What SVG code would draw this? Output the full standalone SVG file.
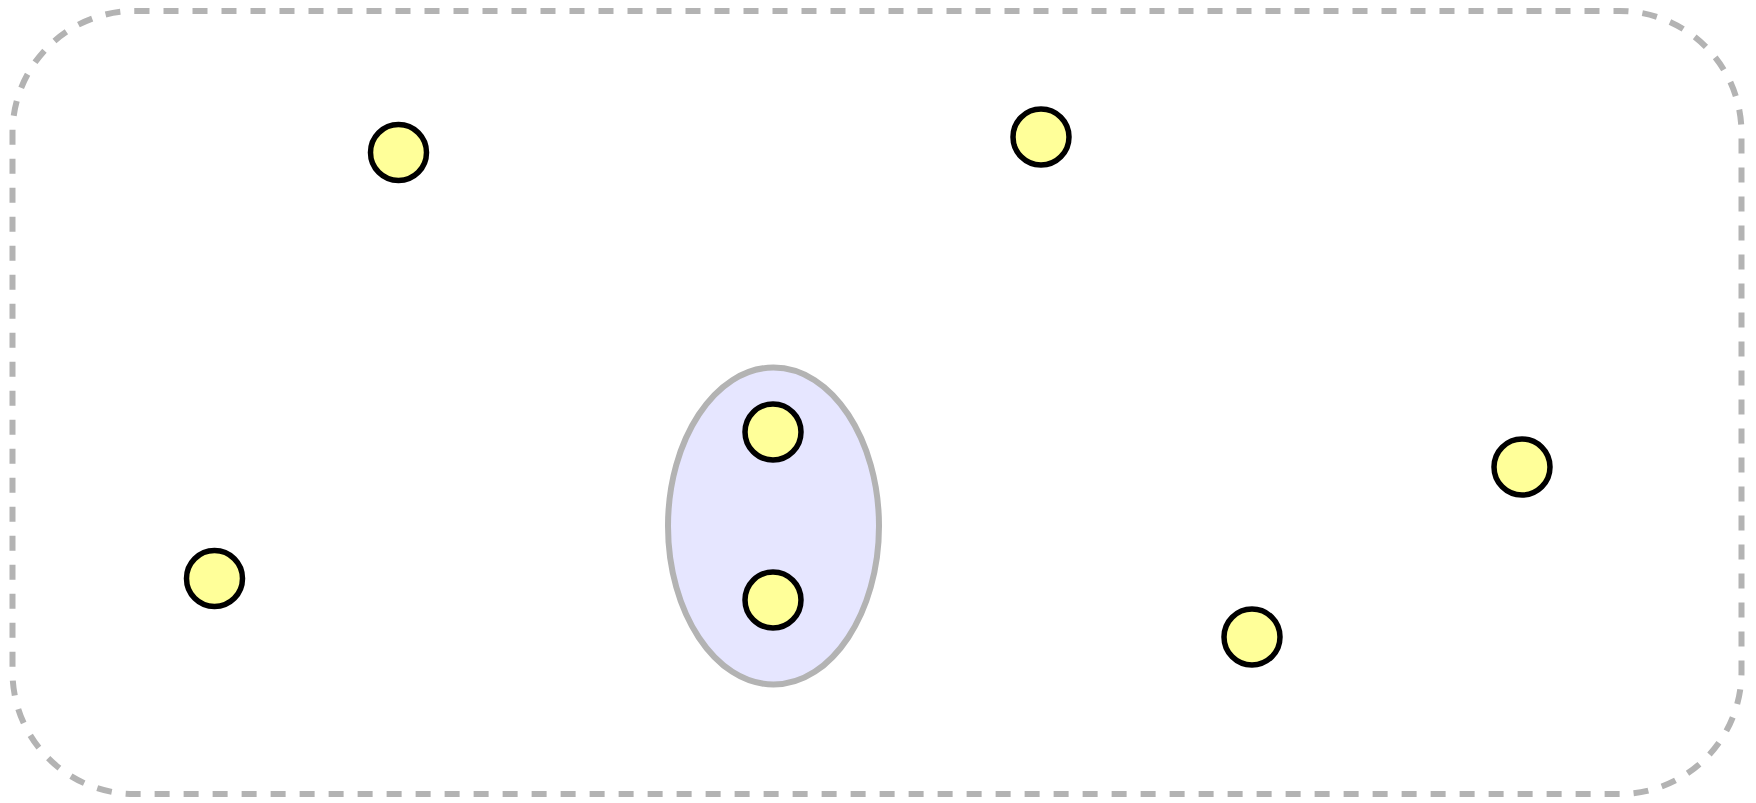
<svg xmlns="http://www.w3.org/2000/svg" width="1756" height="803" viewBox="0 0 1756 803">
<style>
.frame{fill:none;stroke:#b3b3b3;stroke-width:6;stroke-dasharray:15 14}
.cluster{fill:#e6e6ff;stroke:#b3b3b3;stroke-width:6}
.node{fill:#ffff99;stroke:#000000;stroke-width:5.5}
</style>
<rect width="1756" height="803" fill="#ffffff"/>
<rect class="frame" x="12.5" y="11" width="1729" height="783" rx="122" ry="122"/>
<g id="cluster">
<path class="cluster" d="M773.5,367.5 C832,367.5 879,440 879,526 C879,612 832,684.5 773.5,684.5 C715,684.5 668,612 668,526 C668,440 715,367.5 773.5,367.5 Z"/>
</g>
<g id="connectors"></g>
<g id="n1"><circle class="node" cx="398.5" cy="152.5" r="28"/></g>
<g id="n2"><circle class="node" cx="1041" cy="137" r="28"/></g>
<g id="n3"><circle class="node" cx="1522" cy="467" r="28"/></g>
<g id="n4"><circle class="node" cx="773" cy="432" r="28"/></g>
<g id="n5"><circle class="node" cx="773" cy="600" r="28"/></g>
<g id="n6"><circle class="node" cx="214.5" cy="578.5" r="28"/></g>
<g id="n7"><circle class="node" cx="1252" cy="637" r="28"/></g>
</svg>
